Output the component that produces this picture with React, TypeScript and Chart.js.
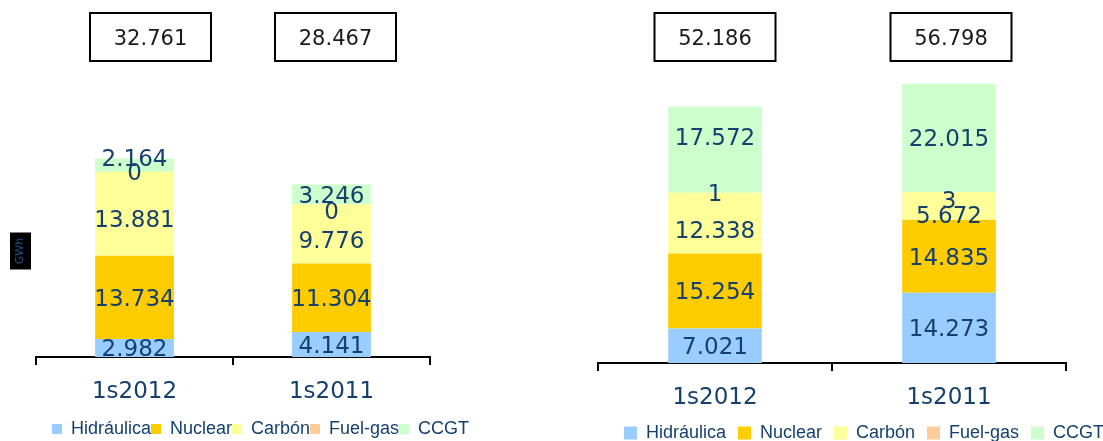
import React, { useEffect, useRef } from 'react';
import { Chart, registerables } from 'chart.js';

Chart.register(...registerables);

// ---- Data ----
const categories = ['1s2012', '1s2011'];
const seriesNames = ['Hidráulica', 'Nuclear', 'Carbón', 'Fuel-gas', 'CCGT'];
const seriesColors = ['#99CCFF', '#FFCC00', '#FFFF99', '#FFCC99', '#CCFFCC'];

// Left panel (GWh)
const leftHidraulica = [2982, 4141];
const leftNuclear = [13734, 11304];
const leftCarbon = [13881, 9776];
const leftFuelGas = [0, 0];
const leftCCGT = [2164, 3246];
const leftTotals = [32761, 28467];

// Right panel (GWh)
const rightHidraulica = [7021, 14273];
const rightNuclear = [15254, 14835];
const rightCarbon = [12338, 5672];
const rightFuelGas = [1, 3];
const rightCCGT = [17572, 22015];
const rightTotals = [52186, 56798];

// ---- Style helpers ----
const FONT = '"DejaVu Sans", Verdana, sans-serif';
const LEGEND_FONT = '"Liberation Sans", Arial, sans-serif';
const LABEL_COLOR = '#15406e';

const fmt = (v: number) => String(v).replace(/\B(?=(\d{3})+(?!\d))/g, '.');

type PanelCfg = {
  series: number[][];
  totals: number[];
  yMax: number;
  padTop: number;
  yWidth: number;
  y2Width: number;
  xHeight: number;
  legendBox: number;
  legendPadding: number;
  nudge: number[][];
  boxShift: number[];
  showUnit: boolean;
};

function makePlugin(cfg: PanelCfg) {
  return {
    id: 'panelDecor',
    beforeDraw(chart: any) {
      if (!cfg.showUnit) return;
      const ctx = chart.ctx;
      const mid = (chart.chartArea.top + chart.chartArea.bottom) / 2;
      ctx.save();
      ctx.fillStyle = '#000';
      ctx.fillRect(10, mid - 18.5, 21, 37);
      ctx.restore();
    },
    afterDatasetsDraw(chart: any) {
      const ctx = chart.ctx;
      ctx.save();
      ctx.font = `23px ${FONT}`;
      ctx.fillStyle = LABEL_COLOR;
      ctx.textAlign = 'center';
      ctx.textBaseline = 'alphabetic';
      chart.data.datasets.forEach((ds: any, di: number) => {
        const meta = chart.getDatasetMeta(di);
        meta.data.forEach((bar: any, i: number) => {
          const p = bar.getProps(['x', 'y', 'base'], true);
          const cy = (p.y + p.base) / 2 + cfg.nudge[di][i];
          ctx.fillText(fmt(ds.data[i]), p.x, cy + 0.365 * 23);
        });
      });
      // totals boxes
      const meta0 = chart.getDatasetMeta(0);
      ctx.font = `21px ${FONT}`;
      cfg.totals.forEach((t, i) => {
        const bx = meta0.data[i].x + cfg.boxShift[i];
        ctx.fillStyle = '#ffffff';
        ctx.fillRect(bx - 60.5, 13, 121, 48);
        ctx.strokeStyle = '#000';
        ctx.lineWidth = 2;
        ctx.strokeRect(bx - 60.5, 13, 121, 48);
        ctx.fillStyle = '#1a1a1a';
        ctx.fillText(fmt(t), bx, 37 + 0.365 * 21);
      });
      ctx.restore();
    },
  };
}

function buildChart(canvas: HTMLCanvasElement, cfg: PanelCfg) {
  return new Chart(canvas, {
    type: 'bar',
    data: {
      labels: categories,
      datasets: cfg.series.map((d, i) => ({
        label: seriesNames[i],
        data: d,
        backgroundColor: seriesColors[i],
        borderWidth: 0,
        categoryPercentage: 1,
        barPercentage: 0.4,
      })),
    },
    options: {
      responsive: false,
      animation: false,
      layout: { padding: { top: cfg.padTop, left: 0, right: 0, bottom: 0 } },
      plugins: {
        legend: {
          position: 'bottom',
          labels: {
            boxWidth: cfg.legendBox,
            boxHeight: cfg.legendBox,
            padding: cfg.legendPadding,
            color: LABEL_COLOR,
            font: { family: LEGEND_FONT, size: 18 },
          },
        },
        tooltip: { enabled: false },
      },
      scales: {
        x: {
          stacked: true,
          grid: {
            display: true,
            drawOnChartArea: false,
            drawTicks: true,
            tickLength: 8,
            color: '#000',
            lineWidth: 2,
            offset: true,
          },
          border: { display: true, color: '#000', width: 2 },
          ticks: {
            color: LABEL_COLOR,
            font: { family: FONT, size: 23 },
            padding: 13,
            maxRotation: 0,
          },
          afterFit: (s: any) => {
            s.height = cfg.xHeight;
          },
        },
        y: {
          stacked: true,
          min: 0,
          max: cfg.yMax,
          display: true,
          ticks: { display: false },
          grid: { display: false },
          border: { display: false },
          title: {
            display: cfg.showUnit,
            text: 'GWh',
            color: '#1f5596',
            font: { family: FONT, size: 11 },
            padding: { top: 14, bottom: 0 },
          },
          afterFit: (s: any) => {
            s.width = cfg.yWidth;
          },
        },
        y2: {
          type: 'linear',
          position: 'right',
          display: true,
          ticks: { display: false },
          grid: { display: false },
          border: { display: false },
          afterFit: (s: any) => {
            s.width = cfg.y2Width;
          },
        },
      },
    } as any,
    plugins: [makePlugin(cfg)],
  });
}

const leftCfg: PanelCfg = {
  series: [leftHidraulica, leftNuclear, leftCarbon, leftFuelGas, leftCCGT],
  totals: leftTotals,
  yMax: 35000,
  padTop: 145,
  yWidth: 36,
  y2Width: 91,
  xHeight: 63,
  legendBox: 10,
  legendPadding: 0,
  nudge: [[0, 0], [0, 0], [5, 6], [0, 6], [-8, 0]],
  boxShift: [16, 4],
  showUnit: true,
};

const rightCfg: PanelCfg = {
  series: [rightHidraulica, rightNuclear, rightCarbon, rightFuelGas, rightCCGT],
  totals: rightTotals,
  yMax: 60000,
  padTop: 68,
  yWidth: 38,
  y2Width: 102,
  xHeight: 49,
  legendBox: 13,
  legendPadding: 12,
  nudge: [[0, 0], [0, 0], [6, 9], [0, 8], [-13, 0]],
  boxShift: [0, 2],
  showUnit: false,
};

function Panel({ cfg, left, width, height }: { cfg: PanelCfg; left: number; width: number; height: number }) {
  const ref = useRef<HTMLCanvasElement>(null);
  useEffect(() => {
    if (!ref.current) return;
    const chart = buildChart(ref.current, cfg);
    return () => chart.destroy();
  }, [cfg]);
  return (
    <canvas
      ref={ref}
      width={width}
      height={height}
      style={{ position: 'absolute', left, top: 0, width, height }}
    />
  );
}

export default function App() {
  return (
    <div
      style={{
        position: 'fixed',
        left: 0,
        top: 0,
        width: 1103,
        height: 441,
        overflow: 'hidden',
        background: '#ffffff',
      }}
    >
      <Panel cfg={leftCfg} left={0} width={521} height={448} />
      <Panel cfg={rightCfg} left={560} width={608} height={452} />
    </div>
  );
}
